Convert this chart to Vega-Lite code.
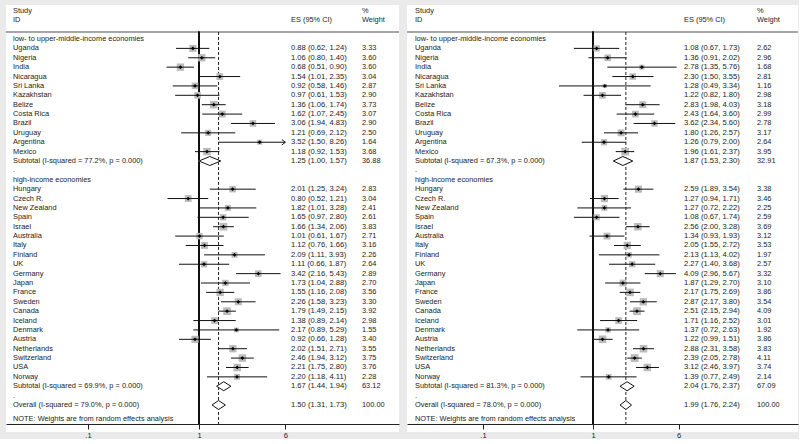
{
  "$schema": "https://vega.github.io/schema/vega-lite/v6.json",
  "background": "#eaeaea",
  "padding": {"left": 5, "top": 5, "right": 0, "bottom": 0},
  "spacing": 6,
  "config": {
    "view": {"fill": "white", "stroke": null},
    "text": {"font": "Liberation Sans", "fontSize": 7.4, "align": "left", "baseline": "middle"},
    "axisY": {"disable": true},
    "axisX": {"domainColor": "#222", "tickColor": "#222", "tickSize": 5, "labelFont": "Liberation Sans", "labelFontSize": 7.6, "labelColor": "#222", "grid": false, "labelPadding": 2}
  },
  "datasets": {
    "a": [
      {"row": 0, "label": "low- to upper-middle-income economies", "kind": "head"},
      {"row": 1, "label": "Uganda", "kind": "study", "es": 0.88, "lo": 0.62, "hi": 1.24, "w": 3.33, "ci": "0.88 (0.62, 1.24)"},
      {"row": 2, "label": "Nigeria", "kind": "study", "es": 1.06, "lo": 0.80, "hi": 1.40, "w": 3.60, "ci": "1.06 (0.80, 1.40)"},
      {"row": 3, "label": "India", "kind": "study", "es": 0.68, "lo": 0.51, "hi": 0.90, "w": 3.60, "ci": "0.68 (0.51, 0.90)"},
      {"row": 4, "label": "Nicaragua", "kind": "study", "es": 1.54, "lo": 1.01, "hi": 2.35, "w": 3.04, "ci": "1.54 (1.01, 2.35)"},
      {"row": 5, "label": "Sri Lanka", "kind": "study", "es": 0.92, "lo": 0.58, "hi": 1.46, "w": 2.87, "ci": "0.92 (0.58, 1.46)"},
      {"row": 6, "label": "Kazakhstan", "kind": "study", "es": 0.97, "lo": 0.61, "hi": 1.53, "w": 2.90, "ci": "0.97 (0.61, 1.53)"},
      {"row": 7, "label": "Belize", "kind": "study", "es": 1.36, "lo": 1.06, "hi": 1.74, "w": 3.73, "ci": "1.36 (1.06, 1.74)"},
      {"row": 8, "label": "Costa Rica", "kind": "study", "es": 1.62, "lo": 1.07, "hi": 2.45, "w": 3.07, "ci": "1.62 (1.07, 2.45)"},
      {"row": 9, "label": "Brazil", "kind": "study", "es": 3.06, "lo": 1.94, "hi": 4.83, "w": 2.90, "ci": "3.06 (1.94, 4.83)"},
      {"row": 10, "label": "Uruguay", "kind": "study", "es": 1.21, "lo": 0.69, "hi": 2.12, "w": 2.50, "ci": "1.21 (0.69, 2.12)"},
      {"row": 11, "label": "Argentina", "kind": "study", "es": 3.52, "lo": 1.50, "hi": 8.26, "w": 1.64, "ci": "3.52 (1.50, 8.26)"},
      {"row": 12, "label": "Mexico", "kind": "study", "es": 1.18, "lo": 0.92, "hi": 1.53, "w": 3.68, "ci": "1.18 (0.92, 1.53)"},
      {"row": 13, "label": "Subtotal  (I-squared = 77.2%, p = 0.000)", "kind": "sub", "es": 1.25, "lo": 1.00, "hi": 1.57, "w": 36.88, "ci": "1.25 (1.00, 1.57)"},
      {"row": 14, "label": ".", "kind": "dot"},
      {"row": 15, "label": "high-income economies", "kind": "head"},
      {"row": 16, "label": "Hungary", "kind": "study", "es": 2.01, "lo": 1.25, "hi": 3.24, "w": 2.83, "ci": "2.01 (1.25, 3.24)"},
      {"row": 17, "label": "Czech R.", "kind": "study", "es": 0.80, "lo": 0.52, "hi": 1.21, "w": 3.04, "ci": "0.80 (0.52, 1.21)"},
      {"row": 18, "label": "New Zealand", "kind": "study", "es": 1.82, "lo": 1.01, "hi": 3.28, "w": 2.41, "ci": "1.82 (1.01, 3.28)"},
      {"row": 19, "label": "Spain", "kind": "study", "es": 1.65, "lo": 0.97, "hi": 2.80, "w": 2.61, "ci": "1.65 (0.97, 2.80)"},
      {"row": 20, "label": "Israel", "kind": "study", "es": 1.66, "lo": 1.34, "hi": 2.06, "w": 3.83, "ci": "1.66 (1.34, 2.06)"},
      {"row": 21, "label": "Australia", "kind": "study", "es": 1.01, "lo": 0.61, "hi": 1.67, "w": 2.71, "ci": "1.01 (0.61, 1.67)"},
      {"row": 22, "label": "Italy", "kind": "study", "es": 1.12, "lo": 0.76, "hi": 1.66, "w": 3.16, "ci": "1.12 (0.76, 1.66)"},
      {"row": 23, "label": "Finland", "kind": "study", "es": 2.09, "lo": 1.11, "hi": 3.93, "w": 2.26, "ci": "2.09 (1.11, 3.93)"},
      {"row": 24, "label": "UK", "kind": "study", "es": 1.11, "lo": 0.66, "hi": 1.87, "w": 2.64, "ci": "1.11 (0.66, 1.87)"},
      {"row": 25, "label": "Germany", "kind": "study", "es": 3.42, "lo": 2.16, "hi": 5.43, "w": 2.89, "ci": "3.42 (2.16, 5.43)"},
      {"row": 26, "label": "Japan", "kind": "study", "es": 1.73, "lo": 1.04, "hi": 2.88, "w": 2.70, "ci": "1.73 (1.04, 2.88)"},
      {"row": 27, "label": "France", "kind": "study", "es": 1.55, "lo": 1.16, "hi": 2.08, "w": 3.56, "ci": "1.55 (1.16, 2.08)"},
      {"row": 28, "label": "Sweden", "kind": "study", "es": 2.26, "lo": 1.58, "hi": 3.23, "w": 3.30, "ci": "2.26 (1.58, 3.23)"},
      {"row": 29, "label": "Canada", "kind": "study", "es": 1.79, "lo": 1.49, "hi": 2.15, "w": 3.92, "ci": "1.79 (1.49, 2.15)"},
      {"row": 30, "label": "Iceland", "kind": "study", "es": 1.38, "lo": 0.89, "hi": 2.14, "w": 2.98, "ci": "1.38 (0.89, 2.14)"},
      {"row": 31, "label": "Denmark", "kind": "study", "es": 2.17, "lo": 0.89, "hi": 5.29, "w": 1.55, "ci": "2.17 (0.89, 5.29)"},
      {"row": 32, "label": "Austria", "kind": "study", "es": 0.92, "lo": 0.66, "hi": 1.28, "w": 3.40, "ci": "0.92 (0.66, 1.28)"},
      {"row": 33, "label": "Netherlands", "kind": "study", "es": 2.02, "lo": 1.51, "hi": 2.71, "w": 3.55, "ci": "2.02 (1.51, 2.71)"},
      {"row": 34, "label": "Switzerland", "kind": "study", "es": 2.46, "lo": 1.94, "hi": 3.12, "w": 3.75, "ci": "2.46 (1.94, 3.12)"},
      {"row": 35, "label": "USA", "kind": "study", "es": 2.21, "lo": 1.75, "hi": 2.80, "w": 3.76, "ci": "2.21 (1.75, 2.80)"},
      {"row": 36, "label": "Norway", "kind": "study", "es": 2.20, "lo": 1.18, "hi": 4.11, "w": 2.28, "ci": "2.20 (1.18, 4.11)"},
      {"row": 37, "label": "Subtotal  (I-squared = 69.9%, p = 0.000)", "kind": "sub", "es": 1.67, "lo": 1.44, "hi": 1.94, "w": 63.12, "ci": "1.67 (1.44, 1.94)"},
      {"row": 38, "label": ".", "kind": "dot"},
      {"row": 39, "label": "Overall  (I-squared = 79.0%, p = 0.000)", "kind": "overall", "es": 1.50, "lo": 1.31, "hi": 1.73, "w": 100.00, "ci": "1.50 (1.31, 1.73)"}
    ],
    "b": [
      {"row": 0, "label": "low- to upper-middle-income economies", "kind": "head"},
      {"row": 1, "label": "Uganda", "kind": "study", "es": 1.08, "lo": 0.67, "hi": 1.73, "w": 2.62, "ci": "1.08 (0.67, 1.73)"},
      {"row": 2, "label": "Nigeria", "kind": "study", "es": 1.36, "lo": 0.91, "hi": 2.02, "w": 2.96, "ci": "1.36 (0.91, 2.02)"},
      {"row": 3, "label": "India", "kind": "study", "es": 2.78, "lo": 1.35, "hi": 5.76, "w": 1.68, "ci": "2.78 (1.35, 5.76)"},
      {"row": 4, "label": "Nicaragua", "kind": "study", "es": 2.30, "lo": 1.50, "hi": 3.55, "w": 2.81, "ci": "2.30 (1.50, 3.55)"},
      {"row": 5, "label": "Sri Lanka", "kind": "study", "es": 1.28, "lo": 0.49, "hi": 3.34, "w": 1.16, "ci": "1.28 (0.49, 3.34)"},
      {"row": 6, "label": "Kazakhstan", "kind": "study", "es": 1.22, "lo": 0.82, "hi": 1.80, "w": 2.98, "ci": "1.22 (0.82, 1.80)"},
      {"row": 7, "label": "Belize", "kind": "study", "es": 2.83, "lo": 1.98, "hi": 4.03, "w": 3.18, "ci": "2.83 (1.98, 4.03)"},
      {"row": 8, "label": "Costa Rica", "kind": "study", "es": 2.43, "lo": 1.64, "hi": 3.60, "w": 2.99, "ci": "2.43 (1.64, 3.60)"},
      {"row": 9, "label": "Brazil", "kind": "study", "es": 3.62, "lo": 2.34, "hi": 5.60, "w": 2.78, "ci": "3.62 (2.34, 5.60)"},
      {"row": 10, "label": "Uruguay", "kind": "study", "es": 1.80, "lo": 1.26, "hi": 2.57, "w": 3.17, "ci": "1.80 (1.26, 2.57)"},
      {"row": 11, "label": "Argentina", "kind": "study", "es": 1.26, "lo": 0.79, "hi": 2.00, "w": 2.64, "ci": "1.26 (0.79, 2.00)"},
      {"row": 12, "label": "Mexico", "kind": "study", "es": 1.96, "lo": 1.61, "hi": 2.37, "w": 3.95, "ci": "1.96 (1.61, 2.37)"},
      {"row": 13, "label": "Subtotal  (I-squared = 67.3%, p = 0.000)", "kind": "sub", "es": 1.87, "lo": 1.53, "hi": 2.30, "w": 32.91, "ci": "1.87 (1.53, 2.30)"},
      {"row": 14, "label": ".", "kind": "dot"},
      {"row": 15, "label": "high-income economies", "kind": "head"},
      {"row": 16, "label": "Hungary", "kind": "study", "es": 2.59, "lo": 1.89, "hi": 3.54, "w": 3.38, "ci": "2.59 (1.89, 3.54)"},
      {"row": 17, "label": "Czech R.", "kind": "study", "es": 1.27, "lo": 0.94, "hi": 1.71, "w": 3.46, "ci": "1.27 (0.94, 1.71)"},
      {"row": 18, "label": "New Zealand", "kind": "study", "es": 1.27, "lo": 0.72, "hi": 2.22, "w": 2.25, "ci": "1.27 (0.72, 2.22)"},
      {"row": 19, "label": "Spain", "kind": "study", "es": 1.08, "lo": 0.67, "hi": 1.74, "w": 2.59, "ci": "1.08 (0.67, 1.74)"},
      {"row": 20, "label": "Israel", "kind": "study", "es": 2.56, "lo": 2.00, "hi": 3.28, "w": 3.69, "ci": "2.56 (2.00, 3.28)"},
      {"row": 21, "label": "Australia", "kind": "study", "es": 1.34, "lo": 0.93, "hi": 1.93, "w": 3.12, "ci": "1.34 (0.93, 1.93)"},
      {"row": 22, "label": "Italy", "kind": "study", "es": 2.05, "lo": 1.55, "hi": 2.72, "w": 3.53, "ci": "2.05 (1.55, 2.72)"},
      {"row": 23, "label": "Finland", "kind": "study", "es": 2.13, "lo": 1.13, "hi": 4.02, "w": 1.97, "ci": "2.13 (1.13, 4.02)"},
      {"row": 24, "label": "UK", "kind": "study", "es": 2.27, "lo": 1.40, "hi": 3.68, "w": 2.57, "ci": "2.27 (1.40, 3.68)"},
      {"row": 25, "label": "Germany", "kind": "study", "es": 4.09, "lo": 2.96, "hi": 5.67, "w": 3.32, "ci": "4.09 (2.96, 5.67)"},
      {"row": 26, "label": "Japan", "kind": "study", "es": 1.87, "lo": 1.29, "hi": 2.70, "w": 3.10, "ci": "1.87 (1.29, 2.70)"},
      {"row": 27, "label": "France", "kind": "study", "es": 2.17, "lo": 1.75, "hi": 2.69, "w": 3.86, "ci": "2.17 (1.75, 2.69)"},
      {"row": 28, "label": "Sweden", "kind": "study", "es": 2.87, "lo": 2.17, "hi": 3.80, "w": 3.54, "ci": "2.87 (2.17, 3.80)"},
      {"row": 29, "label": "Canada", "kind": "study", "es": 2.51, "lo": 2.15, "hi": 2.94, "w": 4.09, "ci": "2.51 (2.15, 2.94)"},
      {"row": 30, "label": "Iceland", "kind": "study", "es": 1.71, "lo": 1.16, "hi": 2.52, "w": 3.01, "ci": "1.71 (1.16, 2.52)"},
      {"row": 31, "label": "Denmark", "kind": "study", "es": 1.37, "lo": 0.72, "hi": 2.63, "w": 1.92, "ci": "1.37 (0.72, 2.63)"},
      {"row": 32, "label": "Austria", "kind": "study", "es": 1.22, "lo": 0.99, "hi": 1.51, "w": 3.86, "ci": "1.22 (0.99, 1.51)"},
      {"row": 33, "label": "Netherlands", "kind": "study", "es": 2.88, "lo": 2.31, "hi": 3.58, "w": 3.83, "ci": "2.88 (2.31, 3.58)"},
      {"row": 34, "label": "Switzerland", "kind": "study", "es": 2.39, "lo": 2.05, "hi": 2.78, "w": 4.11, "ci": "2.39 (2.05, 2.78)"},
      {"row": 35, "label": "USA", "kind": "study", "es": 3.12, "lo": 2.46, "hi": 3.97, "w": 3.74, "ci": "3.12 (2.46, 3.97)"},
      {"row": 36, "label": "Norway", "kind": "study", "es": 1.39, "lo": 0.77, "hi": 2.49, "w": 2.14, "ci": "1.39 (0.77, 2.49)"},
      {"row": 37, "label": "Subtotal  (I-squared = 81.3%, p = 0.000)", "kind": "sub", "es": 2.04, "lo": 1.76, "hi": 2.37, "w": 67.09, "ci": "2.04 (1.76, 2.37)"},
      {"row": 38, "label": ".", "kind": "dot"},
      {"row": 39, "label": "Overall  (I-squared = 78.0%, p = 0.000)", "kind": "overall", "es": 1.99, "lo": 1.76, "hi": 2.24, "w": 100.00, "ci": "1.99 (1.76, 2.24)"}
    ]
  },
  "hconcat": [
    {
      "width": 393,
      "height": 427,
      "data": {"name": "a"},
      "layer": [
        {"mark": {"type": "rule", "color": "#a8a8a8", "strokeWidth": 1}, "encoding": {"y": {"datum": -0.75, "scale": {"domain": [-3.6228, 41.875], "reverse": true, "nice": false, "zero": false}}}},
        {"mark": {"type": "rule", "color": "#111", "strokeWidth": 1}, "encoding": {"x": {"datum": 1, "type": "quantitative", "scale": {"type": "log", "domain": [0.018247, 63.37], "nice": false}, "axis": {"values": [0.1, 1, 6], "labelExpr": "datum.value < 0.5 ? '.1' : datum.value < 2 ? '1' : '6'", "title": null, "offset": -8}}, "y": {"datum": -0.75}, "y2": {"datum": 41.02}}},
        {"transform": [{"filter": "datum.kind == 'overall'"}], "mark": {"type": "rule", "color": "#222", "strokeWidth": 1, "strokeDash": [3, 2]}, "encoding": {"x": {"field": "es", "type": "quantitative", "title": null}, "y": {"datum": -0.75}, "y2": {"datum": 41.02}}},
        {"transform": [{"filter": "datum.kind == 'study'"}], "mark": {"type": "point", "shape": "square", "filled": true, "color": "#bbbbbb", "opacity": 1}, "encoding": {"x": {"field": "es", "type": "quantitative", "title": null}, "y": {"field": "row", "type": "quantitative"}, "size": {"field": "w", "type": "quantitative", "scale": {"type": "linear", "domain": [0, 4], "range": [0, 60], "zero": true}, "legend": null}}},
        {"transform": [{"filter": "datum.kind == 'study' && datum.hi <= 6"}], "mark": {"type": "rule", "color": "#111", "strokeWidth": 1}, "encoding": {"x": {"field": "lo", "type": "quantitative", "title": null}, "x2": {"field": "hi"}, "y": {"field": "row", "type": "quantitative"}}},
        {"transform": [{"filter": "datum.kind == 'study' && datum.hi > 6"}], "mark": {"type": "rule", "color": "#111", "strokeWidth": 1}, "encoding": {"x": {"field": "lo", "type": "quantitative", "title": null}, "x2": {"datum": 6}, "y": {"field": "row", "type": "quantitative"}}},
        {"transform": [{"filter": "datum.kind == 'study' && datum.hi > 6"}], "mark": {"type": "point", "shape": "M-1.3,-1L0,0L-1.3,1", "filled": false, "stroke": "#111", "strokeWidth": 1, "size": 30, "opacity": 1}, "encoding": {"x": {"datum": 6}, "y": {"field": "row", "type": "quantitative"}}},
        {"transform": [{"filter": "datum.kind == 'study'"}], "mark": {"type": "point", "shape": "diamond", "filled": true, "color": "#000", "size": 14, "opacity": 1}, "encoding": {"x": {"field": "es", "type": "quantitative", "title": null}, "y": {"field": "row", "type": "quantitative"}}},
        {"transform": [{"filter": "datum.kind == 'sub' || datum.kind == 'overall'"}, {"fold": ["lo", "es", "hi"], "as": ["k", "v"]}], "mark": {"type": "trail", "color": "white", "opacity": 1}, "encoding": {"x": {"field": "v", "type": "quantitative", "title": null}, "y": {"field": "row", "type": "quantitative"}, "detail": {"field": "row"}, "size": {"field": "k", "type": "ordinal", "scale": {"type": "ordinal", "domain": ["lo", "es", "hi"], "range": [0, 9, 0]}, "legend": null}}},
        {"transform": [{"filter": "datum.kind == 'sub' || datum.kind == 'overall'"}], "mark": {"type": "rule", "color": "#111", "strokeWidth": 1, "y2Offset": -4.5}, "encoding": {"x": {"field": "lo", "type": "quantitative", "title": null}, "x2": {"field": "es"}, "y": {"field": "row", "type": "quantitative"}, "y2": {"field": "row"}}},
        {"transform": [{"filter": "datum.kind == 'sub' || datum.kind == 'overall'"}], "mark": {"type": "rule", "color": "#111", "strokeWidth": 1, "y2Offset": 4.5}, "encoding": {"x": {"field": "lo", "type": "quantitative", "title": null}, "x2": {"field": "es"}, "y": {"field": "row", "type": "quantitative"}, "y2": {"field": "row"}}},
        {"transform": [{"filter": "datum.kind == 'sub' || datum.kind == 'overall'"}], "mark": {"type": "rule", "color": "#111", "strokeWidth": 1, "yOffset": -4.5}, "encoding": {"x": {"field": "es", "type": "quantitative", "title": null}, "x2": {"field": "hi"}, "y": {"field": "row", "type": "quantitative"}, "y2": {"field": "row"}}},
        {"transform": [{"filter": "datum.kind == 'sub' || datum.kind == 'overall'"}], "mark": {"type": "rule", "color": "#111", "strokeWidth": 1, "yOffset": 4.5}, "encoding": {"x": {"field": "es", "type": "quantitative", "title": null}, "x2": {"field": "hi"}, "y": {"field": "row", "type": "quantitative"}, "y2": {"field": "row"}}},
        {"mark": {"type": "text", "color": "#222"}, "encoding": {"x": {"datum": 0.0211}, "y": {"field": "row", "type": "quantitative"}, "text": {"field": "label"}}},
        {"transform": [{"filter": "isValid(datum.ci)"}], "mark": {"type": "text", "color": "#222", "fontSize": 7.6}, "encoding": {"x": {"datum": 6.744}, "y": {"field": "row", "type": "quantitative"}, "text": {"field": "ci"}}},
        {"transform": [{"filter": "isValid(datum.w)"}], "mark": {"type": "text", "color": "#222"}, "encoding": {"x": {"datum": 29.41}, "y": {"field": "row", "type": "quantitative"}, "text": {"field": "w", "type": "quantitative", "format": ".2f"}}},
        {"data": {"values": [{}]}, "mark": {"type": "text", "text": "Study", "color": "#222"}, "encoding": {"x": {"datum": 0.0211}, "y": {"datum": -3}}},
        {"data": {"values": [{}]}, "mark": {"type": "text", "text": "ID", "color": "#222"}, "encoding": {"x": {"datum": 0.0211}, "y": {"datum": -2}}},
        {"data": {"values": [{}]}, "mark": {"type": "text", "text": "ES (95% CI)", "color": "#222"}, "encoding": {"x": {"datum": 6.744}, "y": {"datum": -2}}},
        {"data": {"values": [{}]}, "mark": {"type": "text", "text": "%", "color": "#222"}, "encoding": {"x": {"datum": 29.41}, "y": {"datum": -3}}},
        {"data": {"values": [{}]}, "mark": {"type": "text", "text": "Weight", "color": "#222"}, "encoding": {"x": {"datum": 29.41}, "y": {"datum": -2}}},
        {"data": {"values": [{}]}, "mark": {"type": "text", "text": "NOTE: Weights are from random effects analysis", "color": "#222"}, "encoding": {"x": {"datum": 0.0211}, "y": {"datum": 40.5}}}
      ]
    },
    {
      "width": 391,
      "height": 427,
      "data": {"name": "b"},
      "layer": [
        {"mark": {"type": "rule", "color": "#a8a8a8", "strokeWidth": 1}, "encoding": {"y": {"datum": -0.75, "scale": {"domain": [-3.6228, 41.875], "reverse": true, "nice": false, "zero": false}}}},
        {"mark": {"type": "rule", "color": "#111", "strokeWidth": 1}, "encoding": {"x": {"datum": 1, "type": "quantitative", "scale": {"type": "log", "domain": [0.020377, 73.06], "nice": false}, "axis": {"values": [0.1, 1, 6], "labelExpr": "datum.value < 0.5 ? '.1' : datum.value < 2 ? '1' : '6'", "title": null, "offset": -8}}, "y": {"datum": -0.75}, "y2": {"datum": 41.02}}},
        {"transform": [{"filter": "datum.kind == 'overall'"}], "mark": {"type": "rule", "color": "#222", "strokeWidth": 1, "strokeDash": [3, 2]}, "encoding": {"x": {"field": "es", "type": "quantitative", "title": null}, "y": {"datum": -0.75}, "y2": {"datum": 41.02}}},
        {"transform": [{"filter": "datum.kind == 'study'"}], "mark": {"type": "point", "shape": "square", "filled": true, "color": "#bbbbbb", "opacity": 1}, "encoding": {"x": {"field": "es", "type": "quantitative", "title": null}, "y": {"field": "row", "type": "quantitative"}, "size": {"field": "w", "type": "quantitative", "scale": {"type": "linear", "domain": [0, 4], "range": [0, 60], "zero": true}, "legend": null}}},
        {"transform": [{"filter": "datum.kind == 'study'"}], "mark": {"type": "rule", "color": "#111", "strokeWidth": 1}, "encoding": {"x": {"field": "lo", "type": "quantitative", "title": null}, "x2": {"field": "hi"}, "y": {"field": "row", "type": "quantitative"}}},
        {"transform": [{"filter": "datum.kind == 'study'"}], "mark": {"type": "point", "shape": "diamond", "filled": true, "color": "#000", "size": 14, "opacity": 1}, "encoding": {"x": {"field": "es", "type": "quantitative", "title": null}, "y": {"field": "row", "type": "quantitative"}}},
        {"transform": [{"filter": "datum.kind == 'sub' || datum.kind == 'overall'"}, {"fold": ["lo", "es", "hi"], "as": ["k", "v"]}], "mark": {"type": "trail", "color": "white", "opacity": 1}, "encoding": {"x": {"field": "v", "type": "quantitative", "title": null}, "y": {"field": "row", "type": "quantitative"}, "detail": {"field": "row"}, "size": {"field": "k", "type": "ordinal", "scale": {"type": "ordinal", "domain": ["lo", "es", "hi"], "range": [0, 9, 0]}, "legend": null}}},
        {"transform": [{"filter": "datum.kind == 'sub' || datum.kind == 'overall'"}], "mark": {"type": "rule", "color": "#111", "strokeWidth": 1, "y2Offset": -4.5}, "encoding": {"x": {"field": "lo", "type": "quantitative", "title": null}, "x2": {"field": "es"}, "y": {"field": "row", "type": "quantitative"}, "y2": {"field": "row"}}},
        {"transform": [{"filter": "datum.kind == 'sub' || datum.kind == 'overall'"}], "mark": {"type": "rule", "color": "#111", "strokeWidth": 1, "y2Offset": 4.5}, "encoding": {"x": {"field": "lo", "type": "quantitative", "title": null}, "x2": {"field": "es"}, "y": {"field": "row", "type": "quantitative"}, "y2": {"field": "row"}}},
        {"transform": [{"filter": "datum.kind == 'sub' || datum.kind == 'overall'"}], "mark": {"type": "rule", "color": "#111", "strokeWidth": 1, "yOffset": -4.5}, "encoding": {"x": {"field": "es", "type": "quantitative", "title": null}, "x2": {"field": "hi"}, "y": {"field": "row", "type": "quantitative"}, "y2": {"field": "row"}}},
        {"transform": [{"filter": "datum.kind == 'sub' || datum.kind == 'overall'"}], "mark": {"type": "rule", "color": "#111", "strokeWidth": 1, "yOffset": 4.5}, "encoding": {"x": {"field": "es", "type": "quantitative", "title": null}, "x2": {"field": "hi"}, "y": {"field": "row", "type": "quantitative"}, "y2": {"field": "row"}}},
        {"mark": {"type": "text", "color": "#222"}, "encoding": {"x": {"datum": 0.02408}, "y": {"field": "row", "type": "quantitative"}, "text": {"field": "label"}}},
        {"transform": [{"filter": "isValid(datum.ci)"}], "mark": {"type": "text", "color": "#222", "fontSize": 7.6}, "encoding": {"x": {"datum": 6.72}, "y": {"field": "row", "type": "quantitative"}, "text": {"field": "ci"}}},
        {"transform": [{"filter": "isValid(datum.w)"}], "mark": {"type": "text", "color": "#222"}, "encoding": {"x": {"datum": 30.97}, "y": {"field": "row", "type": "quantitative"}, "text": {"field": "w", "type": "quantitative", "format": ".2f"}}},
        {"data": {"values": [{}]}, "mark": {"type": "text", "text": "Study", "color": "#222"}, "encoding": {"x": {"datum": 0.02408}, "y": {"datum": -3}}},
        {"data": {"values": [{}]}, "mark": {"type": "text", "text": "ID", "color": "#222"}, "encoding": {"x": {"datum": 0.02408}, "y": {"datum": -2}}},
        {"data": {"values": [{}]}, "mark": {"type": "text", "text": "ES (95% CI)", "color": "#222"}, "encoding": {"x": {"datum": 6.72}, "y": {"datum": -2}}},
        {"data": {"values": [{}]}, "mark": {"type": "text", "text": "%", "color": "#222"}, "encoding": {"x": {"datum": 30.97}, "y": {"datum": -3}}},
        {"data": {"values": [{}]}, "mark": {"type": "text", "text": "Weight", "color": "#222"}, "encoding": {"x": {"datum": 30.97}, "y": {"datum": -2}}},
        {"data": {"values": [{}]}, "mark": {"type": "text", "text": "NOTE: Weights are from random effects analysis", "color": "#222"}, "encoding": {"x": {"datum": 0.02408}, "y": {"datum": 40.5}}}
      ]
    }
  ]
}
